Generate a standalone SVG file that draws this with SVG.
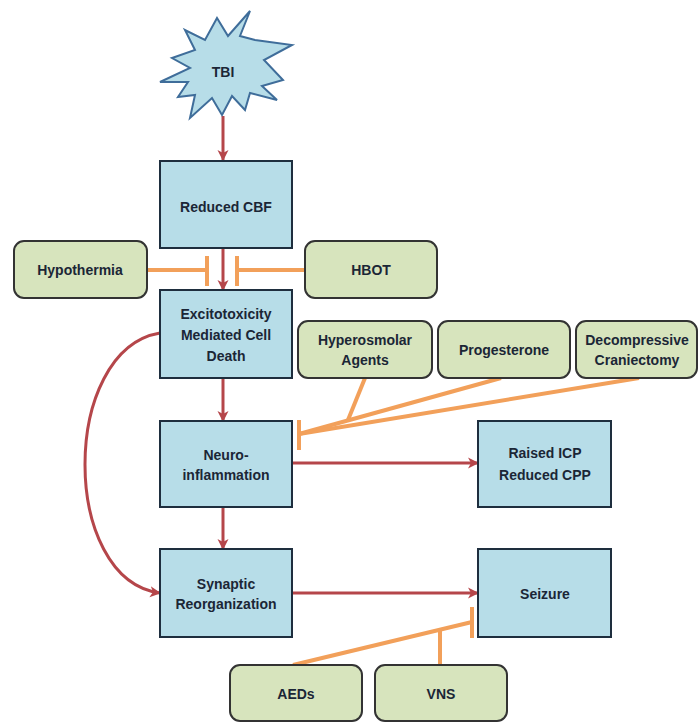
<svg xmlns="http://www.w3.org/2000/svg" width="698" height="723" viewBox="0 0 698 723">
<defs>
<marker id="ar" markerWidth="12" markerHeight="12" refX="10" refY="6" orient="auto" markerUnits="userSpaceOnUse" viewBox="0 0 12 12">
<path d="M0,0.5 L11,6 L0,11.5 L3,6 Z" fill="#b5464a"/>
</marker>
</defs>
<style>
.bx{fill:#b7dde8;stroke:#1e2e3e;stroke-width:2}
.gb{fill:#d7e4bd;stroke:#333;stroke-width:2}
.t{font-family:"Liberation Sans",Arial,sans-serif;font-weight:bold;font-size:14px;fill:#1b2636;text-anchor:middle;dominant-baseline:central}
.r{fill:none;stroke:#b5464a;stroke-width:3}
.o{fill:none;stroke:#f2a05a;stroke-width:4}
</style>
<rect width="698" height="723" fill="#fff"/>
<g id="connectors">
<line class="r" x1="223" y1="116" x2="223" y2="160" marker-end="url(#ar)"/>
<line class="r" x1="223" y1="249" x2="223" y2="290" marker-end="url(#ar)"/>
<line class="r" x1="223" y1="378" x2="223" y2="421" marker-end="url(#ar)"/>
<line class="r" x1="223" y1="507" x2="223" y2="549" marker-end="url(#ar)"/>
<line class="r" x1="292" y1="463" x2="478" y2="463" marker-end="url(#ar)"/>
<line class="r" x1="292" y1="593" x2="478" y2="593" marker-end="url(#ar)"/>
<path class="r" d="M160,333 C60,350 60,580 160,593" marker-end="url(#ar)"/>
<line class="o" x1="147" y1="270" x2="207" y2="270"/>
<line class="o" x1="207" y1="256" x2="207" y2="286"/>
<line class="o" x1="305" y1="270" x2="237" y2="270"/>
<line class="o" x1="237" y1="256" x2="237" y2="286"/>
<line class="o" x1="365" y1="378" x2="348" y2="420"/>
<line class="o" x1="501" y1="378" x2="299" y2="434"/>
<line class="o" x1="639" y1="378" x2="299" y2="434"/>
<line class="o" x1="299" y1="420" x2="299" y2="450"/>
<line class="o" x1="293" y1="665" x2="472" y2="622"/>
<line class="o" x1="440" y1="665" x2="440" y2="629"/>
<line class="o" x1="472" y1="607" x2="472" y2="638"/>
</g>
<g id="tbi">
<polygon points="250,11 240,36 255,40 292,45 264,60 283,80 262,86 277,100 250,93 245,110 232,96 222,115 212,98 190,118 195,95 178,97 188,82 160,82 190,68 172,58 195,50 185,30 205,40 217,18 228,36" fill="#b7dde8" stroke="#3f6d9a" stroke-width="2" stroke-linejoin="miter"/>
<text class="t" x="223" y="72">TBI</text>
</g>
<g id="reduced-cbf"><rect class="bx" x="160" y="161" width="132" height="87"/><text class="t" x="226" y="207">Reduced CBF</text></g>
<g id="hypothermia"><rect class="gb" x="14" y="241" width="133" height="57" rx="10"/><text class="t" x="80" y="270">Hypothermia</text></g>
<g id="hbot"><rect class="gb" x="305" y="241" width="132" height="57" rx="10"/><text class="t" x="371" y="270">HBOT</text></g>
<g id="excitotoxicity"><rect class="bx" x="160" y="290" width="132" height="88"/><text class="t" x="226" y="314">Excitotoxicity</text><text class="t" x="226" y="335">Mediated Cell</text><text class="t" x="226" y="356">Death</text></g>
<g id="hyperosmolar"><rect class="gb" x="298" y="321" width="134" height="57" rx="10"/><text class="t" x="365" y="340">Hyperosmolar</text><text class="t" x="365" y="360">Agents</text></g>
<g id="progesterone"><rect class="gb" x="438" y="321" width="132" height="57" rx="10"/><text class="t" x="504" y="350">Progesterone</text></g>
<g id="decompressive"><rect class="gb" x="576" y="321" width="121" height="57" rx="10"/><text class="t" x="637" y="340">Decompressive</text><text class="t" x="637" y="360">Craniectomy</text></g>
<g id="neuroinflammation"><rect class="bx" x="160" y="421" width="132" height="86"/><text class="t" x="226" y="455">Neuro-</text><text class="t" x="226" y="475">inflammation</text></g>
<g id="raised-icp"><rect class="bx" x="478" y="421" width="133" height="86"/><text class="t" x="545" y="453">Raised ICP</text><text class="t" x="545" y="475">Reduced CPP</text></g>
<g id="synaptic"><rect class="bx" x="160" y="549" width="132" height="88"/><text class="t" x="226" y="584">Synaptic</text><text class="t" x="226" y="604">Reorganization</text></g>
<g id="seizure"><rect class="bx" x="478" y="549" width="133" height="88"/><text class="t" x="545" y="594">Seizure</text></g>
<g id="aeds"><rect class="gb" x="230" y="665" width="132" height="56" rx="10"/><text class="t" x="296" y="694">AEDs</text></g>
<g id="vns"><rect class="gb" x="375" y="665" width="132" height="56" rx="10"/><text class="t" x="441" y="694">VNS</text></g>
</svg>
